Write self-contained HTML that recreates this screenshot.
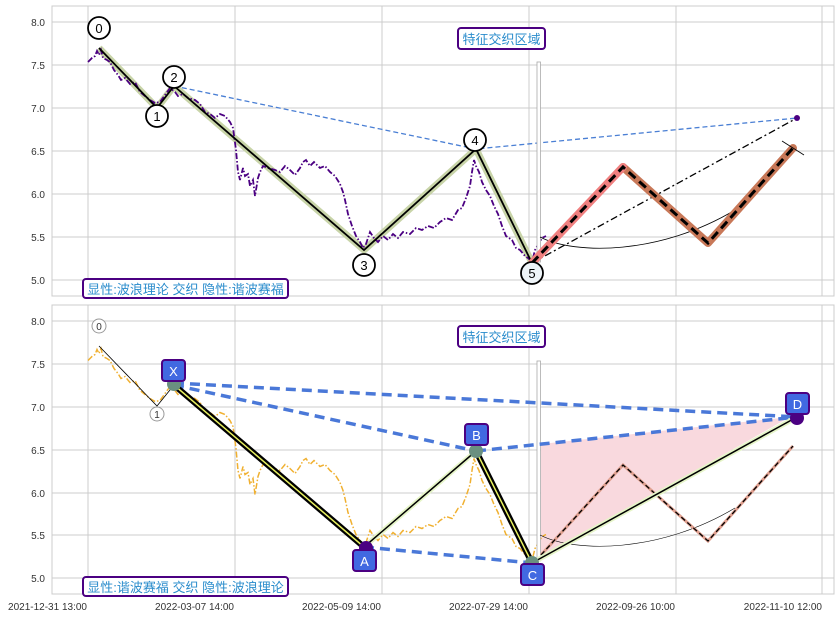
<!DOCTYPE html>
<html><head><meta charset="utf-8"><style>
body{margin:0;background:#fff}
svg{display:block}
text{font-family:"Liberation Sans","Noto Sans CJK SC",sans-serif}
</style></head><body>
<svg width="839" height="617" viewBox="0 0 839 617" xmlns="http://www.w3.org/2000/svg">
<!-- TOP PANEL -->
<rect x="52" y="6" width="782" height="290" fill="#fff" stroke="#cccccc"/>
<g stroke="#cccccc">
<line x1="88" y1="6" x2="88" y2="296"/><line x1="235" y1="6" x2="235" y2="296"/><line x1="382" y1="6" x2="382" y2="296"/><line x1="529" y1="6" x2="529" y2="296"/><line x1="676" y1="6" x2="676" y2="296"/><line x1="822" y1="6" x2="822" y2="296"/>
<line x1="52" y1="22" x2="834" y2="22"/><line x1="52" y1="65" x2="834" y2="65"/><line x1="52" y1="108" x2="834" y2="108"/><line x1="52" y1="151" x2="834" y2="151"/><line x1="52" y1="194" x2="834" y2="194"/><line x1="52" y1="237" x2="834" y2="237"/><line x1="52" y1="280" x2="834" y2="280"/>
</g>
<g font-size="10" fill="#333" text-anchor="end">
<text x="45" y="26">8.0</text><text x="45" y="69">7.5</text><text x="45" y="112">7.0</text><text x="45" y="155">6.5</text><text x="45" y="198">6.0</text><text x="45" y="241">5.5</text><text x="45" y="284">5.0</text>
</g>
<polyline fill="none" stroke="#c8d4a8" stroke-width="7" stroke-linejoin="round" points="99,48 157,108 174,86 364,250 476,149 532,263"/>
<polyline fill="none" stroke="#4b0082" stroke-width="1.8" stroke-dasharray="6,2,1.5,2" points="88,62 92,58 95,56 97,51 99,55 101,50 103,58 107,60 110,62 114,70 118,75 121,80 125,78 130,84 135,82 140,92 145,96 150,100 155,103 160,102 165,95 170,88 175,92 178,96 183,94 188,98 195,100 200,104 205,112 210,114 215,118 220,114 225,116 230,122 233,128 236,150 238,172 240,180 243,168 245,176 248,174 250,186 253,180 255,196 258,178 260,172 263,166 268,168 275,170 280,172 285,166 290,170 295,175 300,168 303,162 306,160 310,166 314,162 320,168 325,166 330,172 335,176 340,184 343,192 345,200 348,214 352,226 356,236 360,242 363,248 366,244 370,232 374,238 378,242 383,236 388,240 393,234 398,238 403,232 410,234 416,228 422,230 428,226 434,228 440,222 446,218 452,220 458,210 462,208 466,198 470,186 472,172 474,160 476,166 479,172 482,182 486,190 490,196 494,206 498,214 502,226 506,236 512,240 516,248 520,250 525,256 528,258 532,262 535,250 538,245 542,238 546,236"/>
<polyline fill="none" stroke="#000" stroke-width="1.8" points="99,48 157,108 174,86 364,250 476,149 532,263"/>
<polyline fill="none" stroke="#4a7fd4" stroke-width="1.3" stroke-dasharray="5,3" points="174,86 476,149 797,118"/>
<line x1="532" y1="263" x2="797" y2="118" stroke="#000" stroke-width="1.3" stroke-dasharray="7,3,2,3"/>
<circle cx="797" cy="118" r="3" fill="#4b0082"/>
<rect x="537" y="62" width="3.5" height="200" fill="#fff" stroke="#aaa" stroke-width="0.8"/>
<path d="M540,237 C575,255 660,255 735,210" fill="none" stroke="#000" stroke-width="0.8"/>
<polyline fill="none" stroke="#c87858" stroke-width="8" stroke-linejoin="round" stroke-linecap="round" points="623,167 708,243 793,148"/>
<line x1="532" y1="263" x2="623" y2="167" stroke="#f08080" stroke-width="8" stroke-linecap="round"/>
<polyline fill="none" stroke="#000" stroke-width="3" stroke-dasharray="9,5" points="532,263 623,167 708,243 793,148"/>
<line x1="782" y1="141" x2="804" y2="155" stroke="#000" stroke-width="0.8"/>
<g fill="#fff" stroke="#000" stroke-width="1.8">
<circle cx="99" cy="28" r="11"/><circle cx="157" cy="116" r="11"/><circle cx="174" cy="77" r="11"/><circle cx="364" cy="265" r="11"/><circle cx="475" cy="140" r="11"/><circle cx="532" cy="273" r="11" fill="#eef4f8"/>
</g>
<g font-size="13" text-anchor="middle" fill="#000">
<text x="99" y="33">0</text><text x="157" y="121">1</text><text x="174" y="82">2</text><text x="364" y="270">3</text><text x="475" y="145">4</text><text x="532" y="278">5</text>
</g>
<rect x="458" y="28" width="87" height="21" rx="3" fill="#fff" stroke="#4b0082" stroke-width="2"/>
<text x="501.5" y="44" font-size="13" fill="#2a8ccc" text-anchor="middle">特征交织区域</text>
<rect x="83" y="279" width="205" height="19" rx="3" fill="#fff" stroke="#4b0082" stroke-width="2"/>
<text x="185.5" y="294" font-size="13" fill="#2a8ccc" text-anchor="middle">显性:波浪理论 交织 隐性:谐波赛福</text>

<!-- BOTTOM PANEL -->
<rect x="52" y="305" width="782" height="289" fill="#fff" stroke="#cccccc"/>
<g stroke="#cccccc">
<line x1="88" y1="305" x2="88" y2="594"/><line x1="235" y1="305" x2="235" y2="594"/><line x1="382" y1="305" x2="382" y2="594"/><line x1="529" y1="305" x2="529" y2="594"/><line x1="676" y1="305" x2="676" y2="594"/><line x1="822" y1="305" x2="822" y2="594"/>
<line x1="52" y1="321" x2="834" y2="321"/><line x1="52" y1="364" x2="834" y2="364"/><line x1="52" y1="407" x2="834" y2="407"/><line x1="52" y1="450" x2="834" y2="450"/><line x1="52" y1="493" x2="834" y2="493"/><line x1="52" y1="535" x2="834" y2="535"/><line x1="52" y1="578" x2="834" y2="578"/>
</g>
<g font-size="10" fill="#333" text-anchor="end">
<text x="45" y="325">8.0</text><text x="45" y="368">7.5</text><text x="45" y="411">7.0</text><text x="45" y="454">6.5</text><text x="45" y="497">6.0</text><text x="45" y="539">5.5</text><text x="45" y="582">5.0</text>
</g>
<polygon points="541,444 790,417 541,558" fill="#f9d9de"/>
<g transform="translate(0,298.5)">
<polyline fill="none" stroke="#f0b030" stroke-width="1.5" stroke-dasharray="6,2,1.5,2" points="88,62 92,58 95,56 97,51 99,55 101,50 103,58 107,60 110,62 114,70 118,75 121,80 125,78 130,84 135,82 140,92 145,96 150,100 155,103 160,102 165,95 170,88 175,92 178,96 183,94 188,98 195,100 200,104 205,112 210,114 215,118 220,114 225,116 230,122 233,128 236,150 238,172 240,180 243,168 245,176 248,174 250,186 253,180 255,196 258,178 260,172 263,166 268,168 275,170 280,172 285,166 290,170 295,175 300,168 303,162 306,160 310,166 314,162 320,168 325,166 330,172 335,176 340,184 343,192 345,200 348,214 352,226 356,236 360,242 363,248 366,244 370,232 374,238 378,242 383,236 388,240 393,234 398,238 403,232 410,234 416,228 422,230 428,226 434,228 440,222 446,218 452,220 458,210 462,208 466,198 470,186 472,172 474,160 476,166 479,172 482,182 486,190 490,196 494,206 498,214 502,226 506,236 512,240 516,248 520,250 525,256 528,258 532,262 535,250 538,245 542,238 546,236"/>
</g>
<polyline fill="none" stroke="#000" stroke-width="0.8" points="99,346 157,406 174,385"/>
<rect x="537" y="361" width="3.5" height="200" fill="#fff" stroke="#aaa" stroke-width="0.8"/>
<path d="M540,535 C575,553 660,553 735,508" fill="none" stroke="#000" stroke-width="0.6"/>
<polyline fill="none" stroke="#e0a090" stroke-width="3" points="541,555 623,465 708,541 793,446"/>
<polyline fill="none" stroke="#000" stroke-width="1.3" stroke-dasharray="5,3" points="541,555 623,465 708,541 793,446"/>
<g fill="none" stroke="#4a78d8" stroke-width="3.5" stroke-dasharray="10,6">
<line x1="174" y1="385" x2="476" y2="451"/><line x1="174" y1="383" x2="797" y2="417"/><line x1="476" y1="451" x2="797" y2="417"/><line x1="364" y1="547" x2="532" y2="563"/>
</g>
<line x1="364" y1="547" x2="476" y2="451" stroke="#e6f5c8" stroke-width="5"/>
<line x1="364" y1="547" x2="476" y2="451" stroke="#000" stroke-width="1.5"/>
<line x1="532" y1="563" x2="797" y2="417" stroke="#e6f5c8" stroke-width="5"/>
<line x1="532" y1="563" x2="797" y2="417" stroke="#000" stroke-width="1.5"/>
<g stroke-linecap="round">
<line x1="174" y1="385" x2="364" y2="547" stroke="#000" stroke-width="6"/>
<line x1="174" y1="385" x2="364" y2="547" stroke="#e8f060" stroke-width="1.5"/>
<line x1="476" y1="451" x2="532" y2="563" stroke="#000" stroke-width="6"/>
<line x1="476" y1="451" x2="532" y2="563" stroke="#e8f060" stroke-width="1.5"/>
</g>
<circle cx="366" cy="548" r="7" fill="#4b0082"/>
<circle cx="797" cy="418" r="7" fill="#4b0082"/>
<g fill="#6a9080"><circle cx="174" cy="384" r="7"/><circle cx="476" cy="451" r="7"/><circle cx="532" cy="563" r="7"/></g>
<g fill="#fff" stroke="#999" stroke-width="1"><circle cx="99" cy="326" r="7"/><circle cx="157" cy="414" r="7"/></g>
<g font-size="10" text-anchor="middle" fill="#333"><text x="99" y="330">0</text><text x="157" y="418">1</text></g>
<g fill="#4169e1" stroke="#4b0082" stroke-width="2">
<rect x="162" y="360" width="23" height="21" rx="3"/><rect x="465" y="424" width="23" height="21" rx="3"/><rect x="353" y="550" width="23" height="21" rx="3"/><rect x="521" y="564" width="23" height="21" rx="3"/><rect x="786" y="393" width="23" height="21" rx="3"/>
</g>
<g font-size="13" text-anchor="middle" fill="#fff">
<text x="173.5" y="376">X</text><text x="476.5" y="440">B</text><text x="364.5" y="566">A</text><text x="532.5" y="580">C</text><text x="797.5" y="409">D</text>
</g>
<rect x="458" y="326" width="87" height="21" rx="3" fill="#fff" stroke="#4b0082" stroke-width="2"/>
<text x="501.5" y="342" font-size="13" fill="#2a8ccc" text-anchor="middle">特征交织区域</text>
<rect x="83" y="577" width="205" height="19" rx="3" fill="#fff" stroke="#4b0082" stroke-width="2"/>
<text x="185.5" y="592" font-size="13" fill="#2a8ccc" text-anchor="middle">显性:谐波赛福 交织 隐性:波浪理论</text>

<g font-size="10" fill="#333" text-anchor="end">
<text x="87" y="610">2021-12-31 13:00</text><text x="234" y="610">2022-03-07 14:00</text><text x="381" y="610">2022-05-09 14:00</text><text x="528" y="610">2022-07-29 14:00</text><text x="675" y="610">2022-09-26 10:00</text><text x="822" y="610">2022-11-10 12:00</text>
</g>
</svg>
</body></html>
